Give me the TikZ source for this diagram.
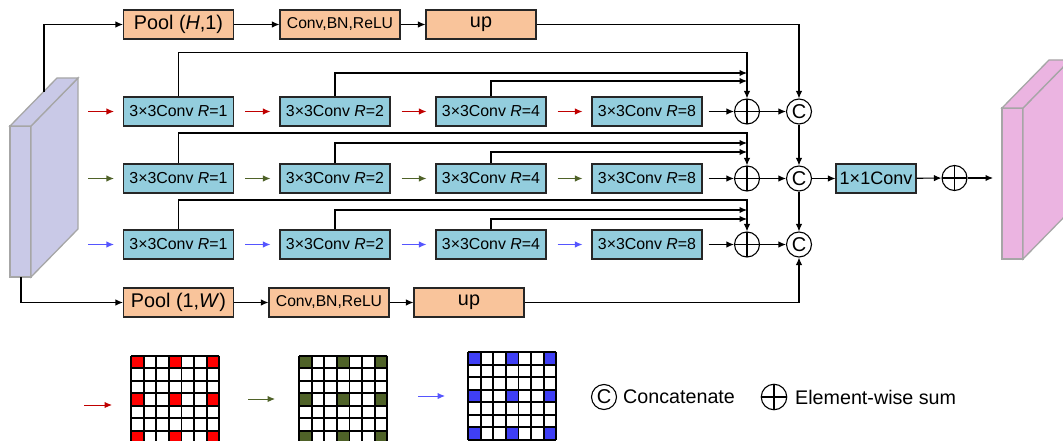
\documentclass[tikz,border=0pt]{standalone}
\usepackage{fontspec}
\setmainfont{Liberation Sans}
\usetikzlibrary{arrows.meta}
\definecolor{convblue}{HTML}{93CDDD}
\definecolor{poolorg}{HTML}{F9C49B}
\definecolor{featin}{HTML}{C9C9E7}
\definecolor{featout}{HTML}{EBB4E1}
\definecolor{arrred}{HTML}{C00000}
\definecolor{arrgreen}{HTML}{4F6228}
\definecolor{arrblue}{HTML}{5555FF}
\definecolor{cellred}{HTML}{FF0000}
\definecolor{cellgreen}{HTML}{4F6228}
\definecolor{cellblue}{HTML}{3F3FF5}
\tikzset{
  >={Latex[length=7.5pt,width=6.5pt]},
}
\tikzstyle{conv}=[draw=black!85,line width=1.1pt,fill=convblue,minimum width=110pt,minimum height=29pt,inner sep=0pt,font=\fontsize{15.9}{17}\selectfont]
\tikzstyle{pool}=[conv,fill=poolorg,font=\fontsize{19.8}{21}\selectfont]
\tikzstyle{cbr}=[pool,minimum width=120pt,font=\fontsize{15.7}{17}\selectfont]
\tikzstyle{sumop}=[circle,draw,line width=1.1pt,minimum size=25pt,inner sep=0pt,path picture={\draw[line width=1.1pt] (path picture bounding box.north) -- (path picture bounding box.south) (path picture bounding box.west) -- (path picture bounding box.east);}]
\tikzstyle{catop}=[circle,draw,line width=1.1pt,minimum size=25pt,inner sep=0pt,font=\fontsize{20}{20}\selectfont]
\tikzstyle{link}=[->,line width=1.1pt]
\tikzstyle{feat}=[draw=black!35,line width=1.3pt]
\tikzstyle{gridline}=[line width=1.8pt]
\tikzstyle{legend}=[anchor=west,inner sep=0pt,font=\fontsize{19.7}{22}\selectfont]

\begin{document}
\begin{tikzpicture}[x=1pt,y=-1pt]
  \useasboundingbox (0,0) rectangle (1063,441);
  % feature maps
  \draw[feat,fill=featin] (10,126) rectangle (31,277);
  \draw[feat,fill=featin] (31,126) -- (78,78) -- (78,229) -- (31,277) -- cycle;
  \draw[feat,fill=featin] (10,126) -- (57,78) -- (78,78) -- (31,126) -- cycle;
  \draw[feat,fill=featout] (1002,108) rectangle (1023,259);
  \draw[feat,fill=featout] (1023,108) -- (1070,60) -- (1070,211) -- (1023,259) -- cycle;
  \draw[feat,fill=featout] (1002,108) -- (1049,60) -- (1070,60) -- (1023,108) -- cycle;
  \coordinate (intop) at (44,92);
  \coordinate (inbot) at (21,277);

  % strip pooling
  \node[pool] (poolh) at (178.5,24.5) {Pool (\textit{H},1)};
  \node[cbr] (cbrh) at (340,24.5) {Conv,BN,ReLU};
  \node[pool] (uph) at (481,24.5) {up};
  \node[pool] (poolw) at (178.5,302.5) {Pool (1,\textit{W})};
  \node[cbr] (cbrw) at (329,302.5) {Conv,BN,ReLU};
  \node[pool] (upw) at (469,302.5) {up};

  % dilated rows
  \foreach \r/\y/\ya/\yb/\yc/\col in {1/111.5/52.5/73/81/arrred,2/178.5/133/143/152/arrgreen,3/244.5/200/210/219/arrblue}{
    \node[conv] (d\r1) at (178.5,\y) {3×3Conv \textit{R}=1};
    \node[conv] (d\r2) at (335,\y) {3×3Conv \textit{R}=2};
    \node[conv] (d\r4) at (491,\y) {3×3Conv \textit{R}=4};
    \node[conv] (d\r8) at (647,\y) {3×3Conv \textit{R}=8};
    \node[sumop] (s\r) at (747,\y) {};
    \node[catop] (c\r) at (799,\y) {C};
    \coordinate (in\r) at (78,\y);
    \draw[link,\col,shorten <=10pt,shorten >=9pt] (in\r) -- (d\r1);
    \draw[link,\col,shorten <=11pt,shorten >=9pt] (d\r1) -- (d\r2);
    \draw[link,\col,shorten <=11pt,shorten >=9pt] (d\r2) -- (d\r4);
    \draw[link,\col,shorten <=11pt,shorten >=9pt] (d\r4) -- (d\r8);
    \draw[link,shorten <=6pt] (d\r8) -- (s\r);
    \draw[link] (s\r) -- (c\r);
    \draw[link] (d\r1.north) |- (s\r |- 0,\ya) -- (s\r.north);
    \draw[link] (d\r2.north) |- (s\r |- 0,\yb);
    \draw[link] (d\r4.north) |- (s\r |- 0,\yc);
  }

  \draw[link] (intop) |- (poolh);
  \draw[link] (poolh) -- (cbrh);
  \draw[link] (cbrh) -- (uph);
  \draw[link] (uph) -| (c1);
  \draw[link] (inbot) |- (poolw);
  \draw[link] (poolw) -- (cbrw);
  \draw[link] (cbrw) -- (upw);
  \draw[link] (upw) -| (c3);
  \draw[link] (c1) -- (c2);
  \draw[link] (c2) -- (c3);

  \node[conv,minimum width=80pt,font=\fontsize{18}{20}\selectfont] (fuse) at (876,178.5) {1×1Conv};
  \node[sumop] (fsum) at (954.5,178) {};
  \coordinate (outp) at (993,178);
  \draw[link] (c2) -- (fuse);
  \draw[link] (fuse) -- (fsum);
  \draw[link] (fsum) -- (outp);

  % dilation grids
  \foreach \gx/\gy/\col in {131/355.7/cellred,299/355.7/cellgreen,468/352.3/cellblue}{
    \foreach \i in {0,3,6}
      \foreach \j in {0,3,6}
        \fill[\col] (\gx+\i*12.6,\gy+\j*12.5) rectangle ++(12.6,12.5);
    \foreach \k in {0,...,7}{
      \draw[gridline] (\gx+\k*12.6,\gy) -- ++(0,87.5);
      \draw[gridline] (\gx,\gy+\k*12.5) -- ++(88.2,0);
    }
  }
  \coordinate (ka1) at (84,405);
  \coordinate (kb1) at (112,405);
  \coordinate (ka2) at (248,399);
  \coordinate (kb2) at (275,399);
  \coordinate (ka3) at (418,396);
  \coordinate (kb3) at (445,396);
  \draw[link,arrred,line width=1pt] (ka1) -- (kb1);
  \draw[link,arrgreen,line width=1pt] (ka2) -- (kb2);
  \draw[link,arrblue,line width=1pt] (ka3) -- (kb3);

  % legend
  \node[catop,font=\fontsize{20}{20}\selectfont] (lgc) at (604,397) {C};
  \node[legend] (lgct) at (623,397) {Concatenate};
  \node[sumop,minimum size=25.5pt] (lgs) at (774,397) {};
  \node[legend] (lgst) at (795,397) {Element-wise sum};
\end{tikzpicture}
\end{document}
